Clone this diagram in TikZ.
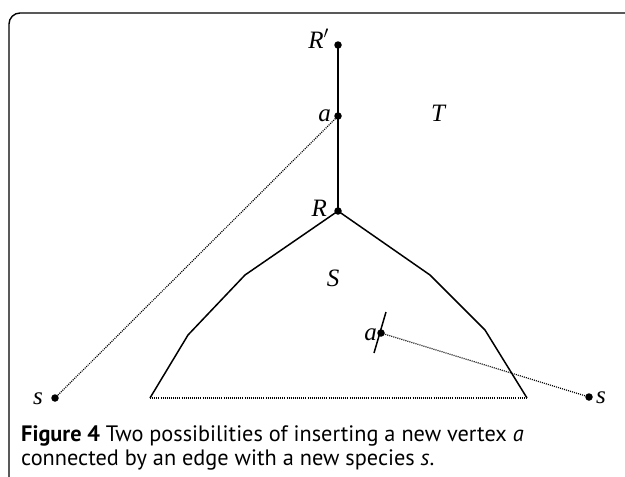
\documentclass[tikz,border=0pt]{standalone}
\usepackage{fontspec}
\setmainfont{Liberation Serif}
\newfontfamily\capfont{PT Sans}
\begin{document}
\begin{tikzpicture}[x=1pt,y=-1pt,
  dot/.style={circle,fill=black,inner sep=0pt,minimum size=7.5pt},
  lbl/.style={font=\fontsize{25}{25}\selectfont\itshape,inner sep=0pt},
  tree/.style={line width=1.5pt,line join=round},
  dots/.style={line width=1.2pt,dash pattern=on 1pt off 1.1pt},
  frame/.style={line width=1.4pt,rounded corners=11pt},
  captext/.style={anchor=base west,inner sep=0pt,font=\capfont\fontsize{22.3}{22.3}\selectfont}]
\useasboundingbox (0,0) rectangle (625,477);
\draw[frame] (9,480) -- (9,13) -- (630,13);
% tree vertices
\node[dot] (Rp) at (338,45) {};
\node[dot] (a1) at (338,116) {};
\node[dot] (R) at (338,211) {};
\coordinate (L1) at (245,275);
\coordinate (L2) at (188,335);
\coordinate (L3) at (150,398);
\coordinate (R1) at (430,275);
\coordinate (R2) at (485,330);
\coordinate (R3) at (527,398);
\node[dot] (a2) at (381,333) {};
\coordinate (t1) at (374,353);
\coordinate (t2) at (386,312);
\node[dot] (s1) at (55,398) {};
\node[dot] (s2) at (589,397) {};
% edges
\draw[tree] (Rp.center) -- (a1.center) -- (R.center);
\draw[tree] (L3) -- (L2) -- (L1) -- (R.center) -- (R1) -- (R2) -- (R3);
\draw[dots] (L3) -- (R3);
\draw[dots] (s1.center) -- (a1.center);
\draw[dots] (s2.center) -- (a2.center);
\draw[line width=1.5pt] (t1) -- (t2);
% labels
\node[lbl,anchor=base east] (lRp) at (329,48) {R$'$};
\node[lbl,anchor=base east] (la1) at (331,121) {a};
\node[lbl,anchor=base west] (lT) at (431,121) {T};
\node[lbl,anchor=base east] (lR) at (327,216) {R};
\node[lbl,anchor=base] (lS) at (333,286) {S};
\node[lbl,anchor=base east] (la2) at (377,340) {a};
\node[lbl,anchor=base east] (ls1) at (43,404) {s};
\node[lbl,anchor=base west] (ls2) at (596,403) {s};
% caption
\node[captext] (cap1) at (21,441)
  {\textbf{Figure 4} Two possibilities of inserting a new vertex \textit{a}};
\node[captext] (cap2) at (21,465)
  {connected by an edge with a new species \textit{s}.};
\end{tikzpicture}
\end{document}
